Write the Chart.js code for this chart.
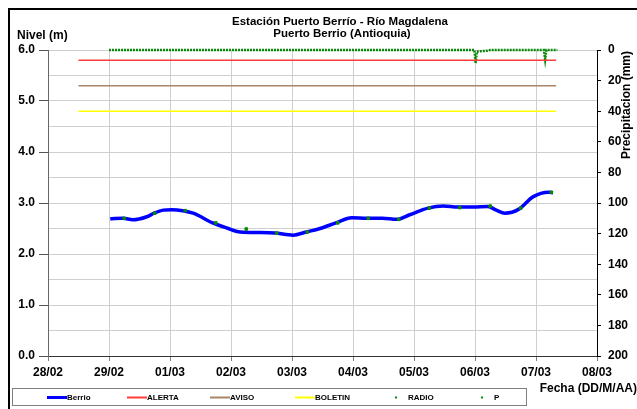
<!DOCTYPE html>
<html>
<head>
<meta charset="utf-8">
<script src="https://cdn.jsdelivr.net/npm/chart.js@4.4.1/dist/chart.umd.min.js"></script>
<style>
  body { margin: 0; background: #fff; }
  #caja { width: 637px; height: 409px; }
</style>
</head>
<body>
<div id="caja"><canvas id="grafica" width="637" height="409"></canvas></div>
<script>
// etiquetas del eje x (dias desde 28/02)
const fechas = ['28/02', '29/02', '01/03', '02/03', '03/03', '04/03', '05/03', '06/03', '07/03', '08/03'];
const titulo = ['Estación Puerto Berrío - Río Magdalena', 'Puerto Berrio (Antioquia)'];

// nivel Berrio (m)
const tiempoNivel = [1.02, 1.23, 1.39, 1.62, 1.74, 1.89, 2.03, 2.21, 2.38, 2.70, 2.93, 3.15, 3.48, 3.72, 4.02, 4.23, 4.46, 4.72, 4.98, 5.23, 5.48, 5.72, 5.93, 6.23, 6.48, 6.72, 6.97, 7.21, 7.35, 7.49, 7.72, 7.95, 8.21, 8.28];
const nivelBerrio = [2.69, 2.70, 2.67, 2.73, 2.80, 2.86, 2.87, 2.85, 2.80, 2.61, 2.51, 2.43, 2.42, 2.41, 2.37, 2.43, 2.50, 2.61, 2.71, 2.70, 2.70, 2.68, 2.77, 2.90, 2.94, 2.92, 2.92, 2.93, 2.86, 2.80, 2.88, 3.12, 3.21, 3.20];

// lecturas RADIO (m)
const tiempoRadio = [1.25, 1.75, 2.25, 2.75, 3.25, 3.75, 4.25, 4.75, 5.25, 5.75, 6.25, 6.75, 7.25, 7.75, 8.25];
const nivelRadio = [2.70, 2.80, 2.85, 2.61, 2.49, 2.41, 2.43, 2.61, 2.70, 2.68, 2.90, 2.91, 2.94, 2.90, 3.21];

// umbrales (m)
const tiempoUmbral = [0.5, 8.33];
const alerta = [5.8, 5.8];
const aviso = [5.3, 5.3];
const boletin = [4.8, 4.8];

// precipitacion P (mm)
const tiempoP = [1.0, 1.25, 1.5, 1.75, 2.0, 2.25, 2.5, 2.75, 3.0, 3.25, 3.5, 3.75, 4.0, 4.25, 4.5, 4.75, 5.0, 5.25, 5.5, 5.75, 6.0, 6.25, 6.5, 6.75, 6.99, 7.01, 7.03, 7.2, 7.25, 7.5, 7.75, 8.0, 8.13, 8.15, 8.17, 8.25, 8.35];
const lluviaP = [0, 0, 0, 0, 0, 0, 0, 0, 0, 0, 0, 0, 0, 0, 0, 0, 0, 0, 0, 0, 0, 0, 0, 0, 0, 8.5, 1, 0.5, 0, 0, 0, 0, 0, 6, 0, 0, 0];

const pares = (xs, ys) => xs.map((x, i) => ({ x: x, y: ys[i] }));

const fuente = '"Liberation Sans", Arial, sans-serif';
Chart.defaults.font.family = fuente;
Chart.defaults.color = '#000';

// textos, marco y leyenda al estilo de la hoja original
const adornos = {
    id: 'adornos',
    beforeDraw(chart) {
        const c = chart.ctx;
        c.save();
        c.fillStyle = '#fff';
        c.fillRect(0, 0, chart.width, chart.height);
        c.restore();
    },
    afterDraw(chart) {
        const c = chart.ctx;
        c.save();
        // marco negro arriba e izquierda
        c.fillStyle = '#000';
        c.fillRect(9, 8, 628, 2);
        c.fillRect(8, 8, 2, 401);

        c.font = 'bold 11.5px ' + fuente;
        c.textBaseline = 'middle';
        c.textAlign = 'center';
        c.fillText(titulo[0], 340, 22);
        c.fillText(titulo[1], 342, 34);
        c.font = 'bold 12px ' + fuente;
        c.textAlign = 'left';
        c.fillText('Nivel (m)', 17, 36);
        c.textAlign = 'right';
        c.fillText('Fecha (DD/M/AA)', 637, 389);
        c.save();
        c.translate(627, 105);
        c.rotate(-Math.PI / 2);
        c.textAlign = 'center';
        c.fillText('Precipitacion (mm)', 0, 0);
        c.restore();

        // leyenda
        c.strokeStyle = '#7f7f7f';
        c.lineWidth = 1;
        c.strokeRect(12.5, 388.5, 514, 17);
        const posX = [47, 127, 210, 295, 380, 466];
        const yl = 397.5;
        c.font = 'bold 8px ' + fuente;
        c.textAlign = 'left';
        chart.data.datasets.forEach((ds, i) => {
            const x0 = posX[i];
            if (ds.showLine === false || ds.label === 'P') {
                c.fillStyle = ds.backgroundColor;
                c.fillRect(x0 + 15, yl - 1, 2, 2);
                c.fillStyle = '#000';
                c.fillText(ds.label, x0 + 28, yl);
            } else {
                c.strokeStyle = ds.borderColor;
                c.lineWidth = ds.label === 'Berrio' ? 3 : 2;
                c.beginPath();
                c.moveTo(x0, yl);
                c.lineTo(x0 + 20, yl);
                c.stroke();
                c.fillStyle = '#000';
                c.fillText(ds.label, x0 + 20, yl);
            }
        });
        c.restore();
    }
};

const ctx = document.getElementById('grafica').getContext('2d');
const grafica = new Chart(ctx, {
    type: 'line',
    data: {
        datasets: [{
            label: 'Berrio',
            data: pares(tiempoNivel, nivelBerrio),
            borderColor: '#0000ff',
            borderWidth: 3.5,
            pointRadius: 0,
            cubicInterpolationMode: 'monotone',
            yAxisID: 'y',
            order: 2
        }, {
            label: 'ALERTA',
            data: pares(tiempoUmbral, alerta),
            borderColor: '#ff3b3b',
            borderWidth: 1.5,
            pointRadius: 0,
            yAxisID: 'y'
        }, {
            label: 'AVISO',
            data: pares(tiempoUmbral, aviso),
            borderColor: '#a98467',
            borderWidth: 1.5,
            pointRadius: 0,
            yAxisID: 'y'
        }, {
            label: 'BOLETIN',
            data: pares(tiempoUmbral, boletin),
            borderColor: '#ffff00',
            borderWidth: 1.5,
            pointRadius: 0,
            yAxisID: 'y'
        }, {
            label: 'RADIO',
            data: pares(tiempoRadio, nivelRadio),
            showLine: false,
            backgroundColor: '#0a8a0a',
            borderColor: '#0a8a0a',
            pointStyle: 'rect',
            pointRadius: 1.8,
            yAxisID: 'y',
            order: 1
        }, {
            label: 'P',
            data: pares(tiempoP, lluviaP),
            borderColor: '#0a8a0a',
            backgroundColor: '#0a8a0a',
            borderWidth: 2.5,
            borderDash: [2, 1],
            pointRadius: 0,
            clip: false,
            yAxisID: 'y2'
        }]
    },
    options: {
        responsive: false,
        animation: false,
        devicePixelRatio: 1,
        layout: { padding: { left: 8, right: 0, top: 50, bottom: 23 } },
        plugins: {
            legend: { display: false },
            title: { display: false },
            tooltip: { enabled: false }
        },
        scales: {
            x: {
                type: 'linear',
                min: 0,
                max: 9,
                afterFit(scale) { scale.height = 30; },
                ticks: {
                    stepSize: 1,
                    padding: 4,
                    maxRotation: 0,
                    font: { size: 12, weight: 'bold' },
                    callback: (v) => fechas[v]
                },
                grid: { color: '#cfcfcf', tickColor: '#7f7f7f', tickLength: 5 },
                border: { color: '#333' }
            },
            y: {
                position: 'left',
                min: 0,
                max: 6,
                afterFit(scale) { scale.width = 40; },
                ticks: {
                    stepSize: 0.5,
                    padding: 4,
                    font: { size: 12, weight: 'bold' },
                    callback: (v) => Number.isInteger(v) ? v.toFixed(1) : ''
                },
                grid: {
                    color: '#cfcfcf',
                    tickLength: 9,
                    tickColor: (c) => Number.isInteger(c.tick.value) ? '#555' : 'rgba(0,0,0,0)'
                },
                border: { color: '#666' }
            },
            y2: {
                position: 'right',
                min: 0,
                max: 200,
                reverse: true,
                afterFit(scale) { scale.width = 40; },
                ticks: {
                    stepSize: 20,
                    padding: 7,
                    font: { size: 12, weight: 'bold' }
                },
                grid: { drawOnChartArea: false, tickColor: '#000', tickLength: 4 },
                border: { color: '#000' }
            }
        }
    },
    plugins: [adornos]
});
</script>
</body>
</html>
